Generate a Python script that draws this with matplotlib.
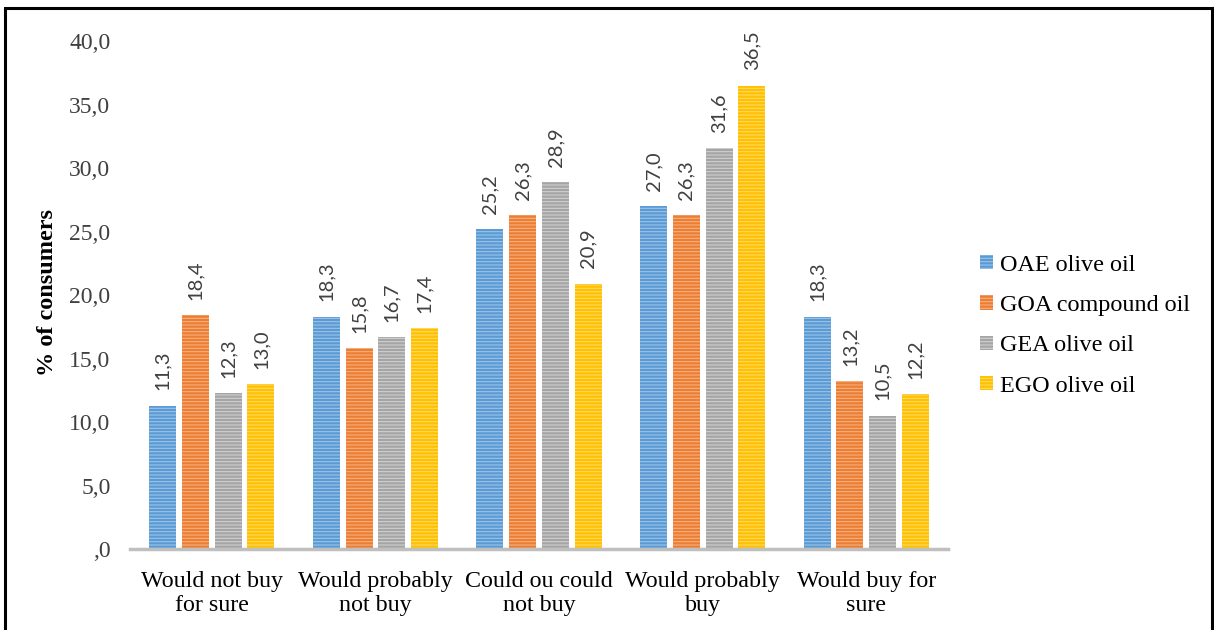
import matplotlib.pyplot as plt
import numpy as np
from matplotlib.patches import Rectangle

categories = ['Would not buy\nfor sure', 'Would probably\nnot buy', 'Could ou could\nnot buy',
              'Would probably\nbuy', 'Would buy for\nsure']
series = ['OAE olive oil', 'GOA compound oil', 'GEA olive oil', 'EGO olive oil']
oae = [11.3, 18.3, 25.2, 27.0, 18.3]
goa = [18.4, 15.8, 26.3, 26.3, 13.2]
gea = [12.3, 16.7, 28.9, 31.6, 10.5]
ego = [13.0, 17.4, 20.9, 36.5, 12.2]
yticks = [0, 5, 10, 15, 20, 25, 30, 35, 40]

colors = ['#5B9BD5', '#ED7D31', '#A5A5A5', '#FFC000']
stripes = ['#9DC3E6', '#F4B183', '#D0D0D0', '#FFD966']

plt.rcParams['hatch.linewidth'] = 0.8
serif = ['Liberation Serif', 'DejaVu Serif']
sans = ['Lato', 'DejaVu Sans']


def comma(v):
    s = f'{v:.1f}'.replace('.', ',')
    return s[1:] if s.startswith('0,') else s


fig = plt.figure(figsize=(12.14, 6.3), dpi=100)
ax = fig.add_axes([0.107, 0.1286, 0.674, 0.806])

x = np.arange(len(categories))
width = 0.165
pitch = 0.2
for i, (vals, name) in enumerate(zip([oae, goa, gea, ego], series)):
    pos = x + (i - 1.5) * pitch
    ax.bar(pos, vals, width=width, color=colors[i], edgecolor=stripes[i],
           linewidth=0, hatch='-----', label=name)
    for xp, v in zip(pos, vals):
        ax.text(xp, v + 1.2, comma(v), rotation=90, ha='center', va='bottom',
                fontsize=14.5, family=sans, color='#404040')

ax.set_xlim(-0.5, len(categories) - 0.5)
ax.set_ylim(0, 40)
ax.set_yticks(yticks)
ax.set_yticklabels([comma(t) for t in yticks], family=serif, fontsize=17, color='#404040')
ax.set_xticks(x)
ax.set_xticklabels(categories, family=serif, fontsize=17.3, linespacing=1.2)
ax.tick_params(axis='both', length=0)
ax.tick_params(axis='y', pad=14)
ax.tick_params(axis='x', pad=16)
for s in ['top', 'right', 'left']:
    ax.spines[s].set_visible(False)
ax.spines['bottom'].set_color('#BFBFBF')
ax.spines['bottom'].set_linewidth(2.5)

fig.text(0.039, 0.535, '% of consumers', rotation=90, ha='center', va='center',
         family=serif, fontsize=17.5, fontweight='bold')

fig.legend(loc='center left', bbox_to_anchor=(0.789, 0.483), frameon=False,
           prop={'family': serif, 'size': 17.4}, handlelength=0.55, handleheight=0.55,
           handletextpad=0.3, labelspacing=0.8)

# outer frame
fig.patches.append(Rectangle((0.004, -0.01), 0.994, 0.997, transform=fig.transFigure,
                             fill=False, edgecolor='black', linewidth=2.2))

fig.savefig('out.png', dpi=100)
